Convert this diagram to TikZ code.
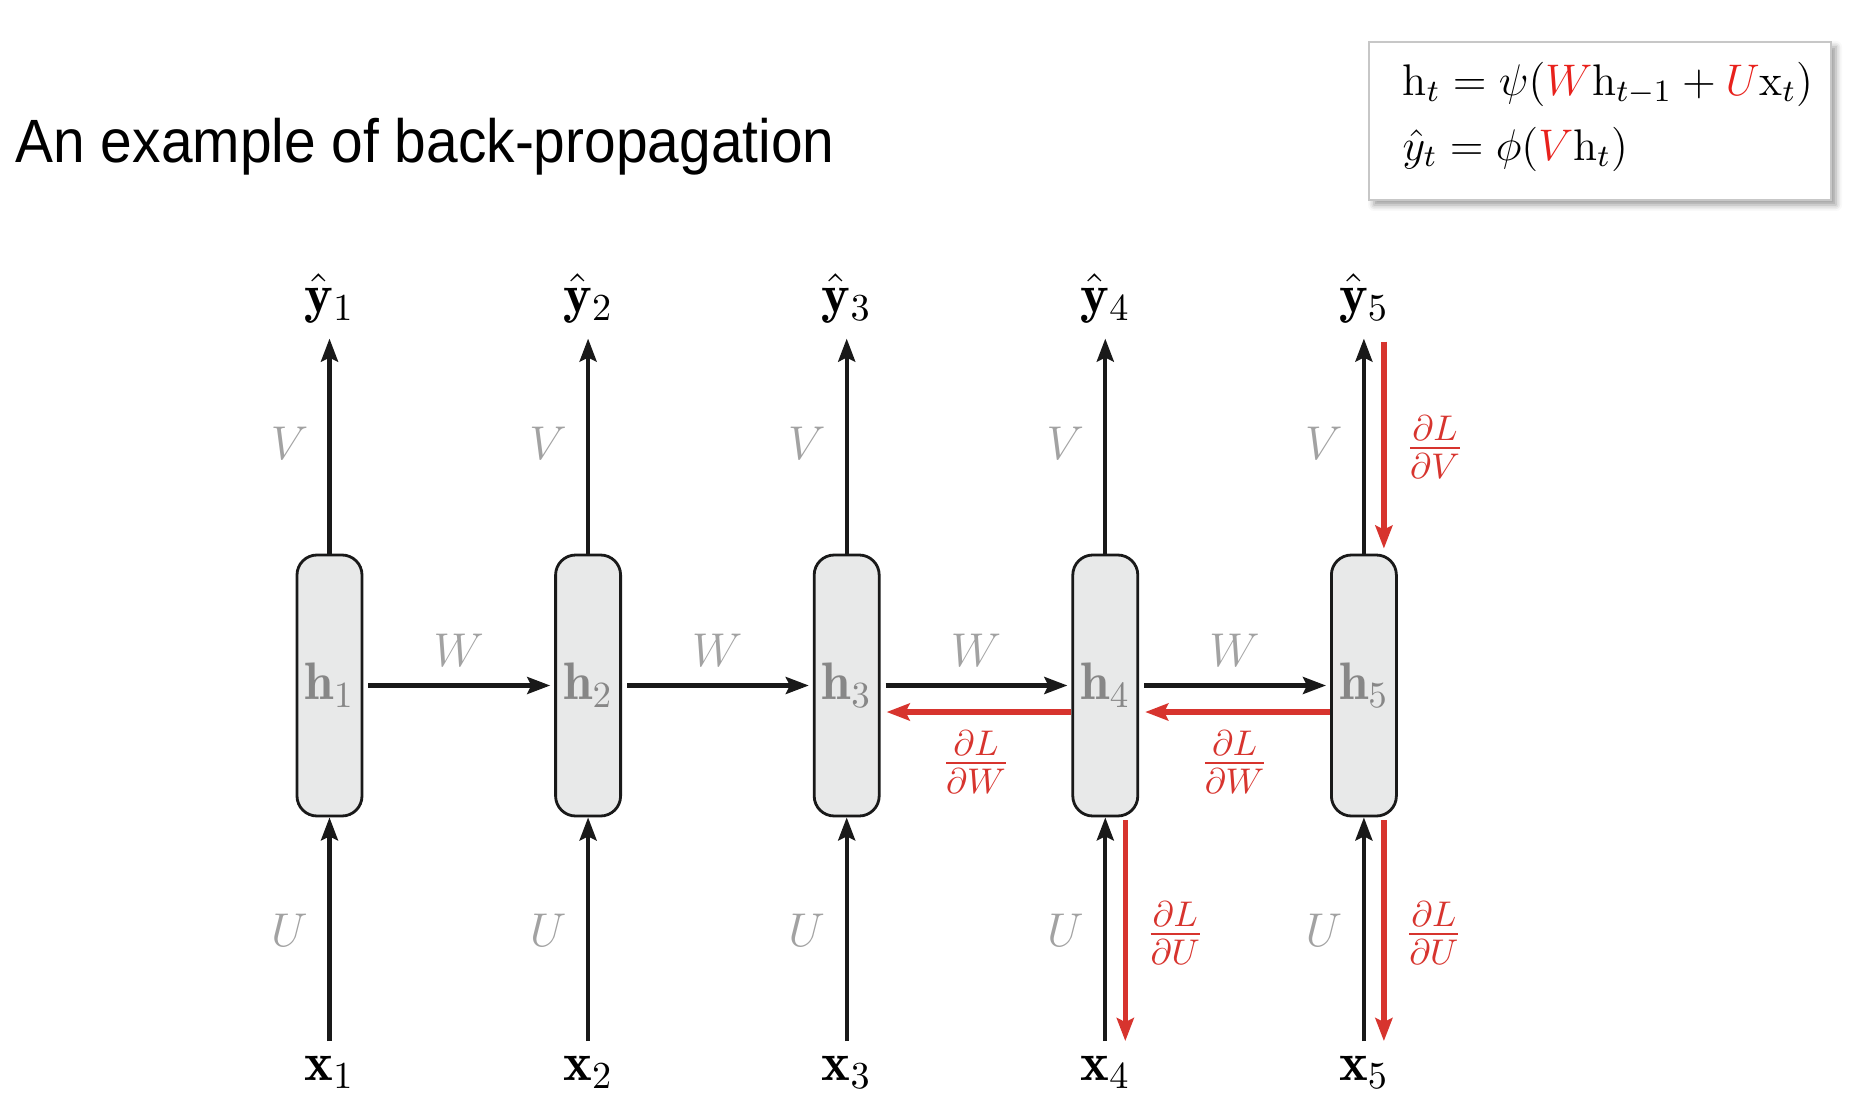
\documentclass[tikz,border=0pt]{standalone}
\usepackage{fix-cm}
\usepackage{amsmath}
\usepackage{fontspec}
\newfontfamily\titlefont{Liberation Sans}
\usetikzlibrary{arrows.meta, positioning, calc, shadows.blur}

\definecolor{cellgray}{HTML}{E8E9E9}
\definecolor{weightgray}{HTML}{A2A2A2}
\definecolor{hgray}{HTML}{878787}
\definecolor{gradred}{HTML}{D7342E}
\definecolor{eqred}{HTML}{E8211C}

\tikzset{
  cell/.style={draw=black!90, line width=0.8pt, fill=cellgray, rounded corners=0.2cm,
    minimum width=0.65cm, minimum height=2.61cm, inner sep=0pt,
    text=hgray, font=\fontsize{15}{17}\selectfont},
  io/.style={inner sep=0pt, font=\fontsize{15.5}{17}\selectfont},
  weight/.style={inner sep=0pt, text=weightgray, font=\fontsize{13.5}{15}\selectfont},
  grad/.style={inner sep=0pt, text=gradred, font=\fontsize{14.5}{16}\selectfont},
  fwd/.style={->, line width=1.15pt, black!90},
  bwd/.style={->, line width=1.5pt, gradred}
}

\begin{document}
\begin{tikzpicture}[>={Stealth[length=0.23cm, width=0.17cm, inset=0.04cm]}]
    \useasboundingbox (0,0) rectangle (18.52,11.10);

    % --- Title ---
    \node[anchor=base west, inner sep=0pt, xscale=0.93, transform shape,
        font={\titlefont\fontsize{17.4}{20}\selectfont}]
        (title) at (0.15,9.48) {An example of back-propagation};

    % --- Equations ---
    \node[draw=black!22, fill=white, minimum width=4.62cm, minimum height=1.58cm,
        blur shadow={shadow xshift=0.5mm, shadow yshift=-0.5mm, shadow blur radius=0.6mm}]
        (eqbox) at (16.0,9.89) {};
    \node[anchor=base west, inner sep=0pt, font=\fontsize{12.6}{15}\selectfont] (eq1) at (14.02,10.15)
        {$\mathrm{h}_t = \psi(\textcolor{eqred}{W}\mathrm{h}_{t-1} + \textcolor{eqred}{U}\mathrm{x}_t)$};
    \node[anchor=base west, inner sep=0pt, font=\fontsize{12.6}{15}\selectfont] (eq2) at (14.02,9.50)
        {$\hat{y}_t = \phi(\textcolor{eqred}{V}\mathrm{h}_t)$};

    % --- Unrolled network ---
    \foreach \i in {1,...,5} {
        \pgfmathsetmacro{\cx}{3.295 + 2.586*(\i-1)}
        \node[cell] (h\i) at (\cx,4.245) {$\mathbf{h}_{\i}$};
        \node[io, anchor=base] (y\i) at (\cx,7.98) {$\hat{\mathbf{y}}_{\i}$};
        \node[io, anchor=base] (x\i) at (\cx,0.30) {$\mathbf{x}_{\i}$};
        \draw[fwd, shorten >=1.5mm] (h\i) -- (y\i);
        \draw[fwd, shorten <=1.4mm] (x\i) -- (h\i);
        \node[weight] (v\i) at (\cx-0.40,6.67) {$V$};
        \node[weight] (u\i) at (\cx-0.40,1.80) {$U$};
    }

    % Recurrent connections
    \foreach \i/\j in {1/2, 2/3, 3/4, 4/5} {
        \draw[fwd, shorten <=0.5mm, shorten >=0.4mm] (h\i) -- (h\j);
        \node[weight] (w\i) at ($(h\i)!0.5!(h\j) + (0,0.355)$) {$W$};
    }

    % --- Gradients (back-propagation) ---
    \draw[bwd, shorten <=1.8mm, shorten >=0.5mm] ([xshift=2mm]y5.south) -- ([xshift=2mm]h5.north);
    \node[grad] (dv5) at (14.35,6.63) {$\frac{\partial L}{\partial V}$};

    \foreach \i/\j in {5/4, 4/3} {
        \draw[bwd, shorten >=0.6mm] ([yshift=-2.65mm]h\i.west) -- ([yshift=-2.65mm]h\j.east);
        \node[grad] (dw\i) at ($(h\i)!0.5!(h\j) + (0,-0.765)$) {$\frac{\partial L}{\partial W}$};
    }

    \foreach \i in {4,5} {
        \draw[bwd, shorten <=0.3mm, shorten >=1.4mm] ([xshift=2mm]h\i.south) -- ([xshift=2mm]x\i.north);
        \node[grad] (du\i) at ($(h\i.center |- 0,1.77) + (0.70,0)$) {$\frac{\partial L}{\partial U}$};
    }

\end{tikzpicture}
\end{document}
